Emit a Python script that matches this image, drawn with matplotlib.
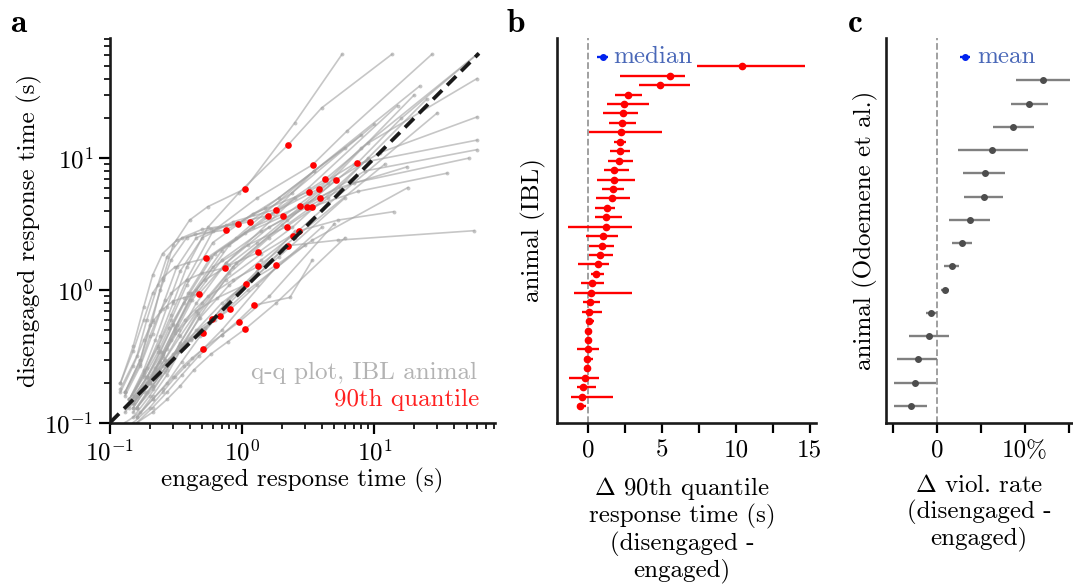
import matplotlib
matplotlib.use("Agg")
import matplotlib.pyplot as plt
import numpy as np

plt.rcParams['font.family'] = 'serif'
plt.rcParams['font.serif'] = ['cmr10', 'DejaVu Serif']
plt.rcParams['mathtext.fontset'] = 'cm'
plt.rcParams['axes.formatter.use_mathtext'] = True
plt.rcParams['axes.unicode_minus'] = False
FS = 18

# ---------------- panel a data: q-q quantiles per IBL animal ----------------
quantile_levels = [0.0, 0.1, 0.25, 0.4, 0.55, 0.7, 0.8, 0.9, 0.95, 1.0]
engaged_q = [
    [0.15, 0.19, 0.24, 0.30, 0.38, 0.55, 0.95, 2.23, 4.0, 13.6],
    [0.14, 0.18, 0.23, 0.29, 0.38, 0.60, 1.30, 3.41, 6.2, 27.3],
    [0.13, 0.17, 0.21, 0.25, 0.30, 0.40, 0.55, 1.05, 2.5, 5.7],
    [0.15, 0.20, 0.26, 0.34, 0.50, 0.90, 2.20, 7.43, 16, 60],
    [0.14, 0.19, 0.25, 0.32, 0.45, 0.80, 1.70, 4.25, 9, 60],
    [0.15, 0.20, 0.26, 0.33, 0.46, 0.85, 2.00, 5.13, 11, 60],
    [0.14, 0.18, 0.23, 0.29, 0.38, 0.60, 1.20, 3.18, 7, 60],
    [0.15, 0.20, 0.25, 0.31, 0.42, 0.70, 1.50, 3.83, 8, 60],
    [0.15, 0.20, 0.26, 0.33, 0.45, 0.75, 1.60, 3.88, 8.5, 60],
    [0.14, 0.19, 0.24, 0.30, 0.40, 0.62, 1.20, 2.74, 5.5, 17.7],
    [0.15, 0.20, 0.25, 0.31, 0.42, 0.70, 1.40, 3.12, 7, 51.8],
    [0.16, 0.21, 0.27, 0.34, 0.47, 0.80, 1.60, 3.35, 7.5, 35.6],
    [0.14, 0.18, 0.22, 0.27, 0.34, 0.50, 0.85, 1.79, 3.5, 22],
    [0.13, 0.17, 0.21, 0.26, 0.32, 0.45, 0.75, 1.57, 3.2, 15],
    [0.15, 0.19, 0.24, 0.30, 0.39, 0.58, 1.05, 2.05, 4.5, 20],
    [0.13, 0.17, 0.20, 0.24, 0.29, 0.38, 0.58, 1.14, 2.4, 10],
    [0.12, 0.16, 0.19, 0.23, 0.27, 0.35, 0.50, 0.93, 1.9, 8],
    [0.12, 0.15, 0.18, 0.21, 0.25, 0.32, 0.44, 0.757, 1.5, 6],
    [0.15, 0.20, 0.25, 0.31, 0.40, 0.60, 1.10, 2.17, 4.5, 25],
    [0.16, 0.21, 0.27, 0.34, 0.46, 0.75, 1.40, 2.69, 5.3, 14],
    [0.16, 0.21, 0.27, 0.35, 0.48, 0.80, 1.40, 2.42, 4.5, 30],
    [0.16, 0.21, 0.27, 0.35, 0.48, 0.78, 1.30, 2.24, 5.3, 57],
    [0.12, 0.15, 0.18, 0.21, 0.25, 0.31, 0.39, 0.537, 0.9, 3.5],
    [0.14, 0.18, 0.23, 0.28, 0.36, 0.52, 0.80, 1.33, 2.4, 9],
    [0.13, 0.17, 0.20, 0.24, 0.29, 0.38, 0.50, 0.74, 1.3, 5],
    [0.15, 0.19, 0.24, 0.29, 0.37, 0.55, 0.85, 1.32, 2.5, 12],
    [0.16, 0.21, 0.27, 0.34, 0.45, 0.70, 1.10, 1.81, 3.4, 18],
    [0.14, 0.18, 0.22, 0.27, 0.33, 0.45, 0.65, 1.07, 1.9, 6],
    [0.12, 0.15, 0.18, 0.21, 0.25, 0.30, 0.36, 0.47, 0.75, 2.5],
    [0.16, 0.21, 0.27, 0.35, 0.47, 0.70, 0.95, 1.24, 2.3, 3.4],
    [0.15, 0.19, 0.24, 0.29, 0.36, 0.48, 0.62, 0.81, 1.3, 4],
    [0.13, 0.17, 0.21, 0.25, 0.30, 0.37, 0.46, 0.596, 0.9, 2.5],
    [0.14, 0.18, 0.22, 0.26, 0.32, 0.41, 0.52, 0.678, 1.1, 3],
    [0.15, 0.20, 0.25, 0.31, 0.39, 0.52, 0.70, 0.955, 1.6, 5],
    [0.16, 0.21, 0.27, 0.34, 0.43, 0.58, 0.78, 1.06, 1.8, 6],
    [0.13, 0.16, 0.20, 0.24, 0.28, 0.34, 0.41, 0.507, 0.75, 2],
    [0.13, 0.17, 0.21, 0.25, 0.30, 0.36, 0.42, 0.507, 0.7, 1.8],
]
disengaged_q = [
    [0.16, 0.26, 0.45, 0.80, 1.5, 3.0, 5.5, 12.6, 24, 61],
    [0.15, 0.24, 0.38, 0.65, 1.2, 2.8, 5.0, 8.91, 16, 61],
    [0.17, 0.30, 0.60, 1.20, 2.2, 3.4, 4.3, 5.86, 18.5, 61],
    [0.14, 0.21, 0.30, 0.45, 0.80, 1.6, 3.4, 9.16, 20, 61],
    [0.14, 0.22, 0.34, 0.55, 1.0, 2.2, 3.8, 6.93, 13, 40],
    [0.11, 0.16, 0.24, 0.38, 0.68, 1.5, 3.1, 6.86, 11, 20.5],
    [0.15, 0.23, 0.37, 0.60, 1.1, 2.3, 3.8, 5.56, 9, 13.7],
    [0.14, 0.21, 0.33, 0.52, 0.95, 2.0, 3.6, 5.89, 12, 61],
    [0.13, 0.20, 0.30, 0.46, 0.80, 1.6, 3.0, 5.04, 8, 11.6],
    [0.14, 0.22, 0.34, 0.55, 0.95, 1.9, 3.0, 4.33, 6.0, 8.6],
    [0.13, 0.20, 0.31, 0.48, 0.85, 1.7, 2.8, 4.28, 6.5, 10],
    [0.11, 0.16, 0.23, 0.35, 0.62, 1.35, 2.5, 4.28, 5.6, 7.7],
    [0.15, 0.25, 0.42, 0.75, 1.4, 2.5, 3.3, 4.09, 8, 35],
    [0.16, 0.27, 0.47, 0.85, 1.5, 2.5, 3.1, 3.68, 6, 25],
    [0.14, 0.22, 0.35, 0.56, 0.95, 1.8, 2.7, 3.64, 6.5, 30],
    [0.17, 0.30, 0.55, 1.00, 1.7, 2.5, 2.9, 3.31, 5.5, 18],
    [0.18, 0.32, 0.60, 1.10, 1.8, 2.5, 2.9, 3.20, 5, 15],
    [0.20, 0.38, 0.75, 1.30, 1.9, 2.4, 2.65, 2.87, 4.2, 12],
    [0.14, 0.21, 0.32, 0.50, 0.85, 1.5, 2.2, 3.04, 5, 28],
    [0.13, 0.19, 0.27, 0.40, 0.65, 1.2, 1.9, 2.82, 3.4, 3.94],
    [0.13, 0.19, 0.27, 0.39, 0.62, 1.1, 1.7, 2.60, 4.5, 22],
    [0.11, 0.15, 0.20, 0.29, 0.45, 0.85, 1.4, 2.18, 2.4, 2.83],
    [0.20, 0.35, 0.60, 0.95, 1.25, 1.5, 1.62, 1.75, 2.5, 8],
    [0.15, 0.22, 0.34, 0.52, 0.80, 1.2, 1.55, 1.94, 3, 10],
    [0.17, 0.28, 0.45, 0.70, 0.95, 1.2, 1.35, 1.48, 2.3, 7],
    [0.14, 0.20, 0.29, 0.42, 0.60, 0.9, 1.2, 1.52, 2.5, 9],
    [0.13, 0.18, 0.25, 0.35, 0.50, 0.8, 1.15, 1.55, 2.4, 6],
    [0.14, 0.19, 0.26, 0.36, 0.50, 0.7, 0.88, 1.11, 1.8, 5],
    [0.17, 0.27, 0.42, 0.58, 0.72, 0.83, 0.88, 0.94, 1.6, 5],
    [0.10, 0.13, 0.17, 0.23, 0.32, 0.46, 0.60, 0.774, 0.885, 1.7],
    [0.12, 0.17, 0.23, 0.30, 0.38, 0.5, 0.60, 0.718, 1.1, 3],
    [0.13, 0.17, 0.22, 0.27, 0.33, 0.41, 0.50, 0.611, 0.95, 2.8],
    [0.13, 0.17, 0.22, 0.28, 0.34, 0.43, 0.52, 0.64, 1.0, 2.2],
    [0.10, 0.13, 0.17, 0.22, 0.28, 0.37, 0.46, 0.582, 0.9, 3.2],
    [0.10, 0.12, 0.15, 0.19, 0.25, 0.33, 0.41, 0.513, 0.8, 2.5],
    [0.12, 0.16, 0.20, 0.25, 0.30, 0.36, 0.42, 0.475, 0.75, 2],
    [0.10, 0.12, 0.15, 0.18, 0.22, 0.27, 0.31, 0.361, 0.5, 1.5],
]
highlight_level = 0.9

# ---------------- panel b data ----------------
b_median = [0.97, 0.56, 1.35]  # center, low, high
b_center = [10.4, 5.53, 4.85, 2.71, 2.42, 2.33, 2.30, 2.19, 2.14, 2.14, 2.10, 1.76, 1.74, 1.65, 1.63,
            1.24, 1.22, 1.17, 0.99, 0.90, 0.77, 0.63, 0.50, 0.25, 0.20, 0.14, 0.07, 0.05, 0.0, 0.0,
            -0.05, -0.07, -0.11, -0.23, -0.34, -0.43, -0.56]
b_low = [7.38, 2.17, 3.41, 1.78, 1.29, 0.97, 1.38, 0.07, 1.76, 1.47, 1.33, 1.08, 0.61, 0.90, 0.54,
         0.45, 0.45, -1.40, -0.18, 0.07, 0.07, -0.72, 0.18, -0.50, -0.99, -0.34, -0.41, -0.11, -0.07, -0.05,
         -0.77, -0.29, -0.18, -1.31, -0.77, -1.15, -0.77]
b_high = [14.7, 6.55, 6.88, 3.61, 4.13, 3.39, 3.23, 4.99, 2.55, 2.80, 3.02, 2.78, 3.14, 2.42, 2.82,
          1.81, 2.28, 2.96, 2.03, 1.74, 1.67, 1.42, 1.08, 1.04, 2.98, 0.79, 0.90, 0.38, 0.07, 0.05,
          0.70, 0.29, -0.04, 0.72, 0.54, 1.69, -0.14]
b_ticks = [0, 2.5, 5, 7.5, 10, 12.5, 15]
b_ticklabels = ['0', '', '5', '', '10', '', '15']

# ---------------- panel c data ----------------
c_mean = [3.2, 2.6, 3.8]
c_center = [12.0, 10.5, 8.6, 6.3, 5.4, 5.3, 3.75, 2.8, 1.7, 0.9, -0.7, -0.9, -2.2, -2.5, -3.0]
c_low = [8.95, 8.4, 6.4, 2.4, 3.0, 3.1, 1.4, 1.7, 0.8, 0.4, -1.3, -3.2, -4.5, -4.9, -4.9]
c_high = [15.1, 12.6, 11.0, 10.3, 7.7, 7.5, 6.0, 4.0, 2.5, 1.4, 0.0, 1.4, 0.0, -0.1, -1.1]
c_ticks = [-5, 0, 5, 10, 15]
c_ticklabels = ['', '0', '', '10%', '']

W, H = 1073, 587
fig = plt.figure(figsize=(W / 100, H / 100), dpi=100)


def rect(l, t, r, b):
    return [l / W, 1 - b / H, (r - l) / W, (b - t) / H]


def style(ax):
    for s in ['top', 'right']:
        ax.spines[s].set_visible(False)
    for s in ['left', 'bottom']:
        ax.spines[s].set_linewidth(1.9)
        ax.spines[s].set_color('#1a1a1a')


# ---------------- panel a ----------------
axa = fig.add_axes(rect(110, 38, 495, 422.7))
style(axa)
hi = quantile_levels.index(highlight_level)
for xq, yq in zip(engaged_q, disengaged_q):
    axa.plot(xq, yq, '-o', color='#a4a4a4', alpha=0.62, lw=1.2, ms=2.8, mew=0, zorder=1)
red_x = [xq[hi] for xq in engaged_q]
red_y = [yq[hi] for yq in disengaged_q]
axa.plot(red_x, red_y, 'o', color='#ff0000', ms=4.8, mew=0, zorder=3)
axa.plot([0.1, 62], [0.1, 62], ls=(0, (3.4, 1.9)), color='#1a1a1a', lw=2.7, zorder=4)
axa.set_xscale('log')
axa.set_yscale('log')
axa.set_xlim(0.1, 82)
axa.set_ylim(0.1, 81)
axa.tick_params(which='major', length=8, width=1.6, labelsize=FS, pad=4)
axa.tick_params(which='minor', length=4, width=1.2)
axa.set_xlabel('engaged response time (s)', fontsize=FS, labelpad=2)
axa.set_ylabel('disengaged response time (s)', fontsize=FS, labelpad=2)
axa.text(0.953, 0.129, 'q-q plot, IBL animal', color='#b3b3b3', fontsize=FS,
         ha='right', va='center', transform=axa.transAxes)
axa.text(0.958, 0.059, '90th quantile', color='#ff2020', fontsize=FS,
         ha='right', va='center', transform=axa.transAxes)

# ---------------- panel b ----------------
axb = fig.add_axes(rect(556.7, 38, 816, 423))
style(axb)
nb = len(b_center)
rows_b = np.arange(1, nb + 1)
bc = np.array(b_center)
axb.axvline(0, color='#999999', ls='--', lw=1.3, zorder=0)
axb.errorbar(bc, rows_b, xerr=[bc - np.array(b_low), np.array(b_high) - bc], fmt='o',
             color='#ff0000', ecolor='#ff0000', ms=4.5, elinewidth=1.7, capsize=0, zorder=3)
axb.errorbar([b_median[0]], [0], xerr=[[b_median[0] - b_median[1]], [b_median[2] - b_median[0]]],
             fmt='o', color='#0022ee', ms=4, elinewidth=1.7, capsize=0, zorder=3)
axb.text(1.67, 0, 'median', color='#4a68b8', fontsize=FS, va='center', ha='left')
axb.set_ylim(nb + 1.8, -2.0)
axb.set_xlim(-2.14, 15.43)
axb.set_yticks([])
axb.set_xticks(b_ticks)
axb.set_xticklabels(b_ticklabels)
axb.tick_params(axis='x', length=7, width=1.6, labelsize=FS, pad=5)
axb.set_ylabel('animal (IBL)', fontsize=FS, labelpad=8)
fig.text(682 / W, 1 - 475 / H, '$\\Delta$ 90th quantile\nresponse time (s)\n(disengaged -\nengaged)',
         fontsize=FS, ha='center', va='top', linespacing=1.12)

# ---------------- panel c ----------------
axc = fig.add_axes(rect(886, 38, 1073, 423))
style(axc)
nc = len(c_center)
rows_c = np.arange(1, nc + 1)
cc = np.array(c_center)
axc.axvline(0, color='#999999', ls='--', lw=1.3, zorder=0)
axc.errorbar(cc, rows_c, xerr=[cc - np.array(c_low), np.array(c_high) - cc], fmt='o',
             color='#4d4d4d', ecolor='#808080', ms=4, elinewidth=1.7, capsize=0, zorder=3)
axc.errorbar([c_mean[0]], [0], xerr=[[c_mean[0] - c_mean[1]], [c_mean[2] - c_mean[0]]],
             fmt='o', color='#0022ee', ms=4, elinewidth=1.7, capsize=0, zorder=3)
axc.text(4.58, 0, 'mean', color='#4a68b8', fontsize=FS, va='center', ha='left')
axc.set_ylim(nc + 0.73, -0.82)
axc.set_xlim(-5.8, 15.45)
axc.set_yticks([])
axc.set_xticks(c_ticks)
axc.set_xticklabels(c_ticklabels)
axc.tick_params(axis='x', length=7, width=1.6, labelsize=FS, pad=5)
axc.set_ylabel('animal (Odoemene et al.)', fontsize=FS, labelpad=6)
fig.text(979 / W, 1 - 475 / H, '$\\Delta$ viol. rate\n(disengaged -\nengaged)',
         fontsize=FS, ha='center', va='top', linespacing=1.12)

# panel letters
for lab, px in [('a', 10), ('b', 507), ('c', 848)]:
    fig.text(px / W, 1 - 32 / H, lab, fontsize=24, fontweight='bold',
             family=['cmb10', 'DejaVu Serif'], va='baseline', ha='left')

fig.savefig('out.png', dpi=100)
